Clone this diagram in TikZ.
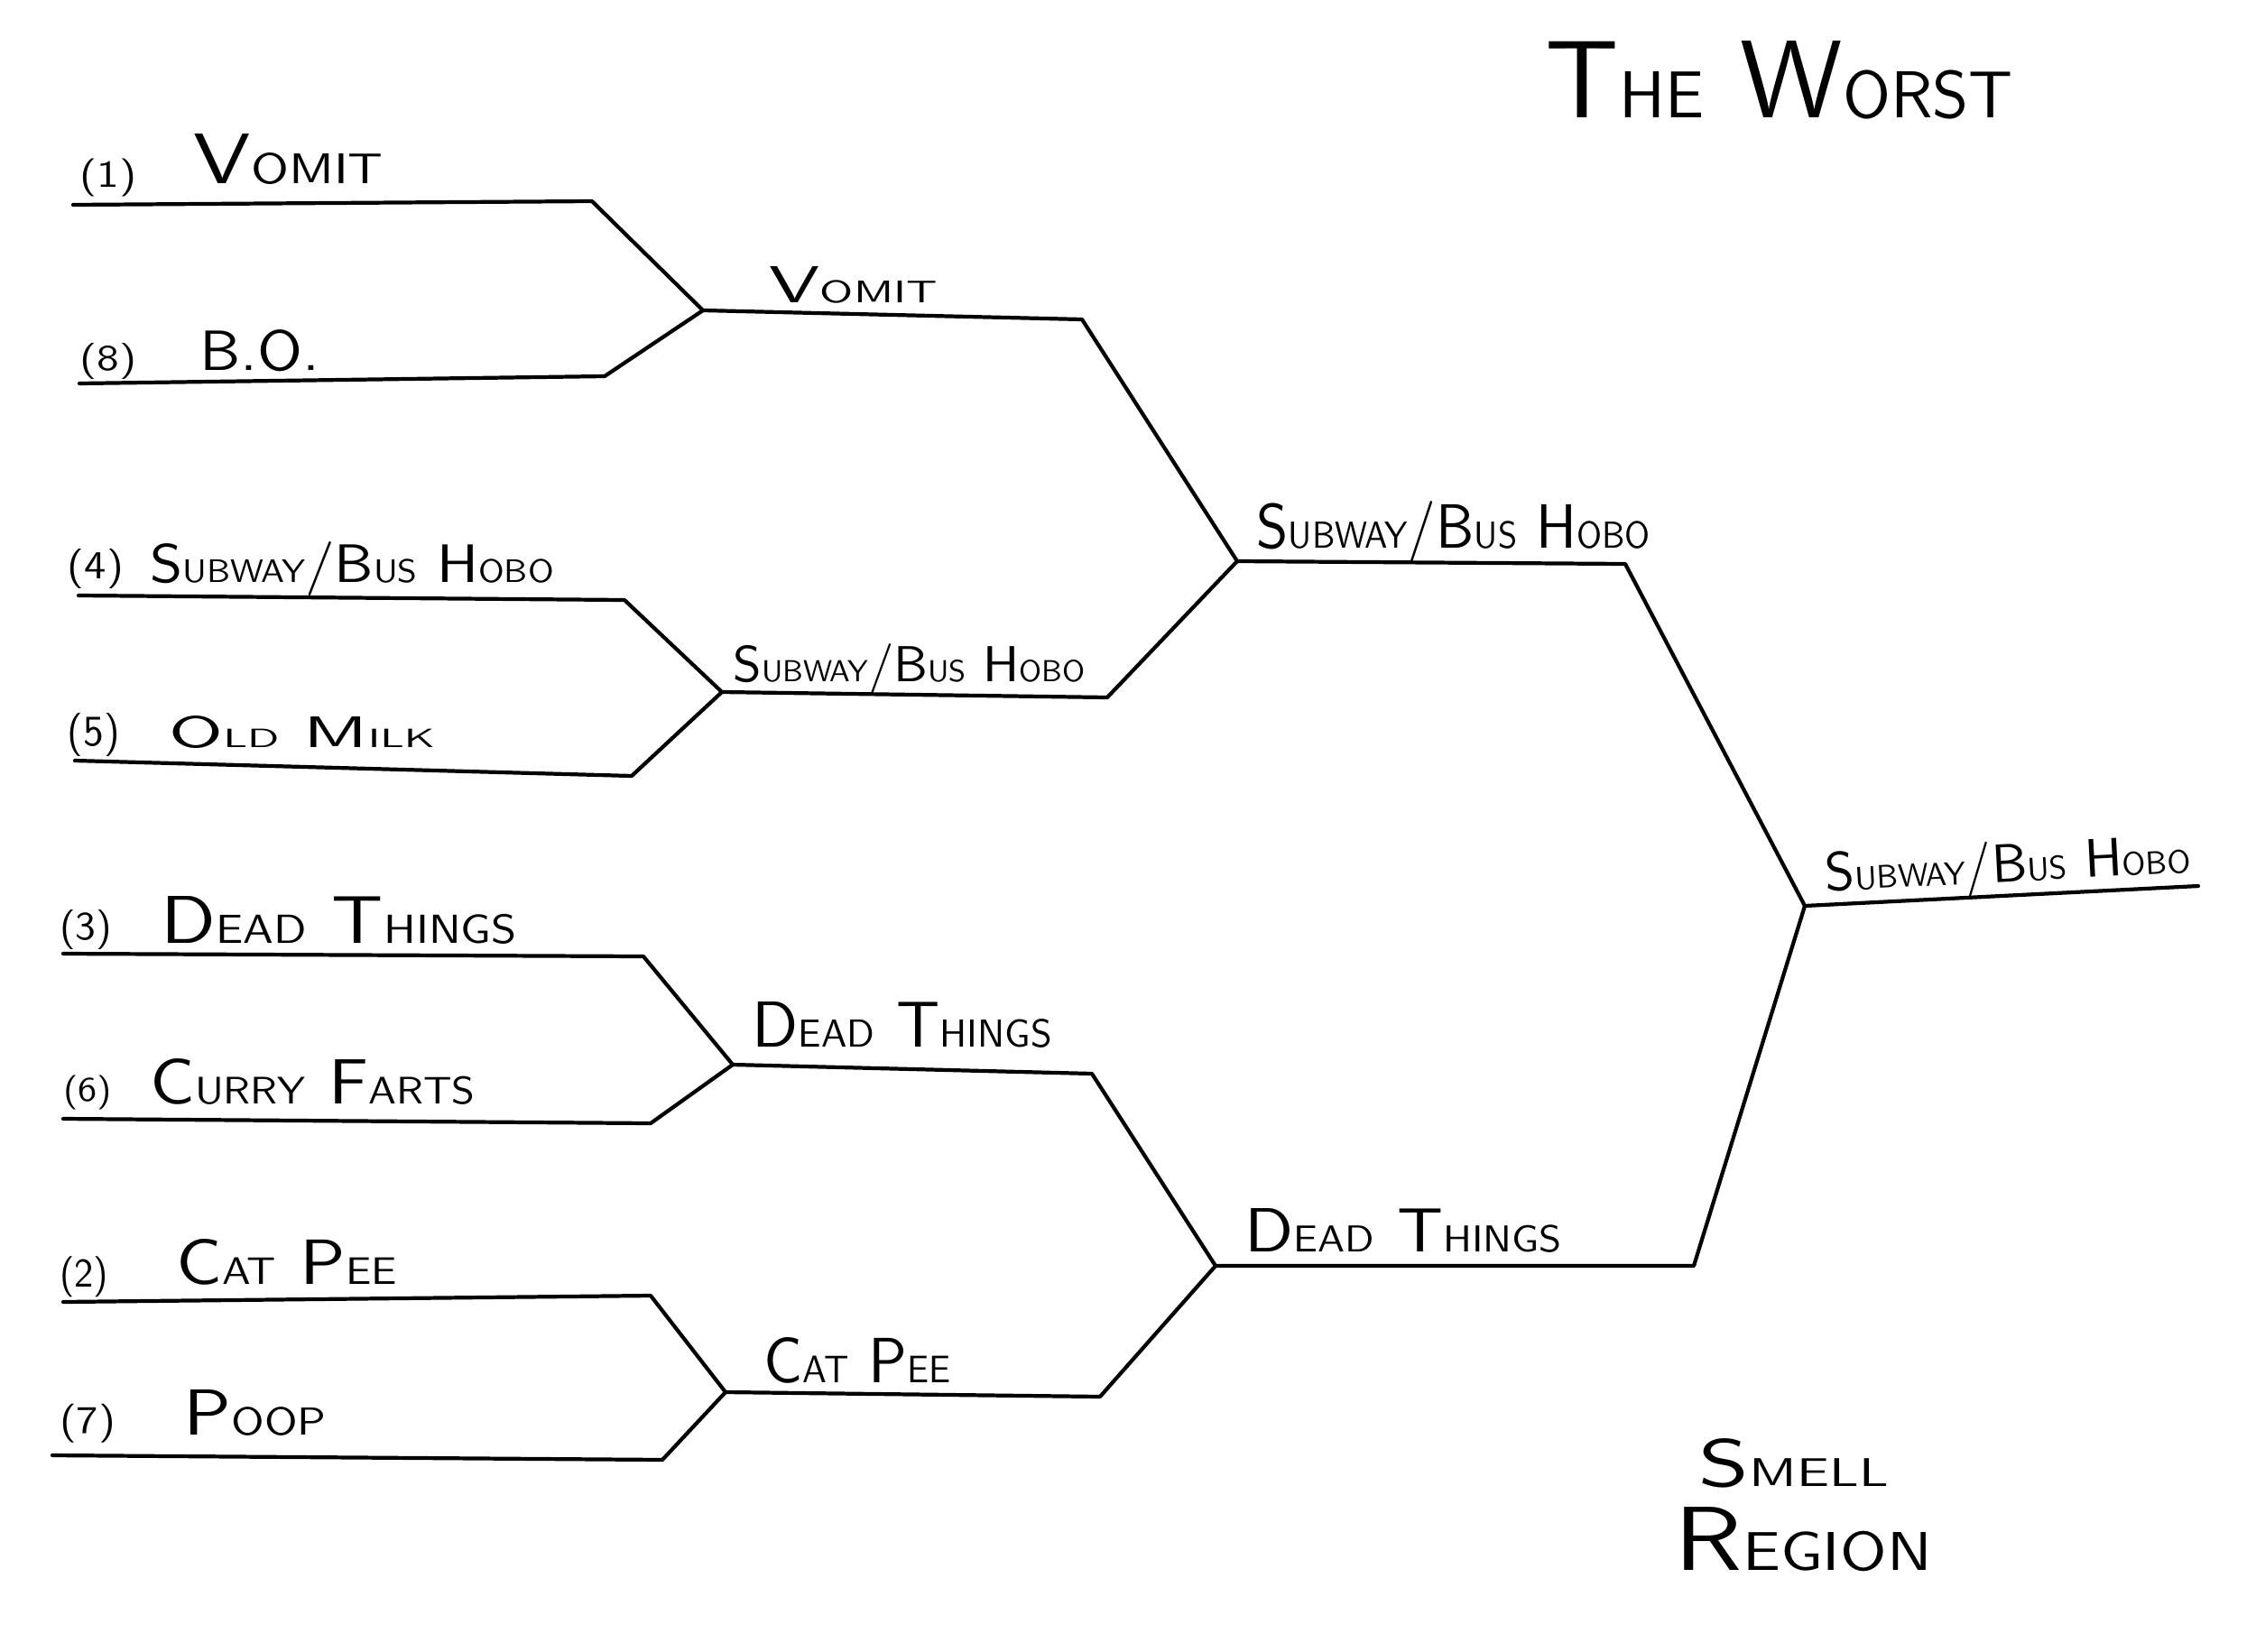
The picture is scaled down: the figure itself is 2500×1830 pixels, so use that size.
\documentclass[tikz,border=0pt]{standalone}
\usepackage{graphicx}
\newlength\pxu
\setlength\pxu{0.01cm}
\newcommand\sm[1]{\scalebox{0.6}{#1}}
\newcommand\fitt[3]{\resizebox{#1\pxu}{#2\pxu}{#3}}
\newcommand\fitp[3]{\resizebox*{#1\pxu}{#2\pxu}{#3}}
\tikzset{
  brk/.style={line width=1.2pt, line join=round, line cap=round},
  lbl/.style={anchor=base west, inner sep=0pt, font=\sffamily},
  num/.style={anchor=center, inner sep=0pt, font=\sffamily}
}
\begin{document}
\begin{tikzpicture}[x=0.01cm, y=-0.01cm]
\useasboundingbox (0,0) rectangle (2500,1830);
\fill[white] (0,0) rectangle (2500,1830);

% bracket coordinates
\coordinate (a1s) at (81,227);  \coordinate (a1e) at (656,223);
\coordinate (a8s) at (88,425);  \coordinate (a8e) at (670,417);
\coordinate (j1) at (779,344);  \coordinate (j1e) at (1199,354);
\coordinate (a4s) at (87,660);  \coordinate (a4e) at (692,665);
\coordinate (a5s) at (83,843);  \coordinate (a5e) at (700,860);
\coordinate (j2) at (800,767);  \coordinate (j2e) at (1227,773);
\coordinate (J1) at (1371,622); \coordinate (J1e) at (1801,625);
\coordinate (F) at (2000,1004); \coordinate (Fe) at (2436,982);
\coordinate (a3s) at (70,1057); \coordinate (a3e) at (713,1060);
\coordinate (a6s) at (70,1240); \coordinate (a6e) at (721,1245);
\coordinate (j3) at (812,1180); \coordinate (j3e) at (1210,1190);
\coordinate (a2s) at (70,1443); \coordinate (a2e) at (721,1436);
\coordinate (a7s) at (58,1613); \coordinate (a7e) at (734,1618);
\coordinate (j4) at (804,1543); \coordinate (j4e) at (1219,1548);
\coordinate (J2) at (1347,1403); \coordinate (J2e) at (1877,1403);

% bracket lines
\draw[brk] (a1s) -- (a1e) -- (j1) -- (j1e) -- (J1) -- (J1e) -- (F) -- (Fe);
\draw[brk] (a8s) -- (a8e) -- (j1);
\draw[brk] (a4s) -- (a4e) -- (j2) -- (j2e) -- (J1);
\draw[brk] (a5s) -- (a5e) -- (j2);
\draw[brk] (a3s) -- (a3e) -- (j3) -- (j3e) -- (J2) -- (J2e) -- (F);
\draw[brk] (a6s) -- (a6e) -- (j3);
\draw[brk] (a2s) -- (a2e) -- (j4) -- (j4e) -- (J2);
\draw[brk] (a7s) -- (a7e) -- (j4);

% title
\node[lbl] (tw) at (1712,130) {\fitt{518}{85}{T\sm{HE} W\sm{ORST}}};

% seeds
\node[num] (p1) at (120,197) {\fitp{63}{42}{(1)}};
\node[lbl] (v1) at (214,203) {\fitt{210}{55}{V\sm{OMIT}}};
\node[num] (p8) at (120,400) {\fitp{63}{40}{(8)}};
\node[lbl] (bo) at (221,410) {\fitt{133}{45}{B.O.}};
\node[num] (p4) at (106,630) {\fitp{62}{44}{(4)}};
\node[lbl] (s4) at (166,645) {\fitt{447}{45}{S\sm{UBWAY}/B\sm{US} H\sm{OBO}}};
\node[num] (p5) at (104,814) {\fitp{58}{48}{(5)}};
\node[lbl] (om) at (187,828) {\fitt{294}{35}{O\sm{LD} M\sm{ILK}}};
\node[num] (p3) at (95,1030) {\fitp{58}{44}{(3)}};
\node[lbl] (dt3) at (178,1045) {\fitt{394}{52}{D\sm{EAD} T\sm{HINGS}}};
\node[num] (p6) at (97,1211) {\fitp{54}{38}{(6)}};
\node[lbl] (cf) at (166,1223) {\fitt{360}{50}{C\sm{URRY} F\sm{ARTS}}};
\node[num] (p2) at (93,1415) {\fitp{54}{45}{(2)}};
\node[lbl] (cp) at (195,1423) {\fitt{244}{50}{C\sm{AT} P\sm{EE}}};
\node[num] (p7) at (97,1578) {\fitp{62}{43}{(7)}};
\node[lbl] (po) at (203,1590) {\fitt{158}{50}{P\sm{OOP}}};

% round 2
\node[lbl] (v2) at (852,335) {\fitt{186}{40}{V\sm{OMIT}}};
\node[lbl] (s2) at (812,755) {\fitt{390}{42}{S\sm{UBWAY}/B\sm{US} H\sm{OBO}}};
\node[lbl] (dt2) at (833,1160) {\fitt{332}{50}{D\sm{EAD} T\sm{HINGS}}};
\node[lbl] (cp2) at (846,1532) {\fitt{207}{50}{C\sm{AT} P\sm{EE}}};

% round 3
\node[lbl] (s3) at (1392,607) {\fitt{436}{52}{S\sm{UBWAY}/B\sm{US} H\sm{OBO}}};
\node[lbl] (dt1) at (1379,1387) {\fitt{351}{48}{D\sm{EAD} T\sm{HINGS}}};

% final
\node[lbl, rotate=3] (sf) at (2023,988) {\fitt{405}{45}{S\sm{UBWAY}/B\sm{US} H\sm{OBO}}};

% region
\node[lbl] (sm) at (1882,1647) {\fitt{210}{53}{S\sm{MELL}}};
\node[lbl] (rg) at (1855,1740) {\fitt{285}{70}{R\sm{EGION}}};
\end{tikzpicture}
\end{document}
